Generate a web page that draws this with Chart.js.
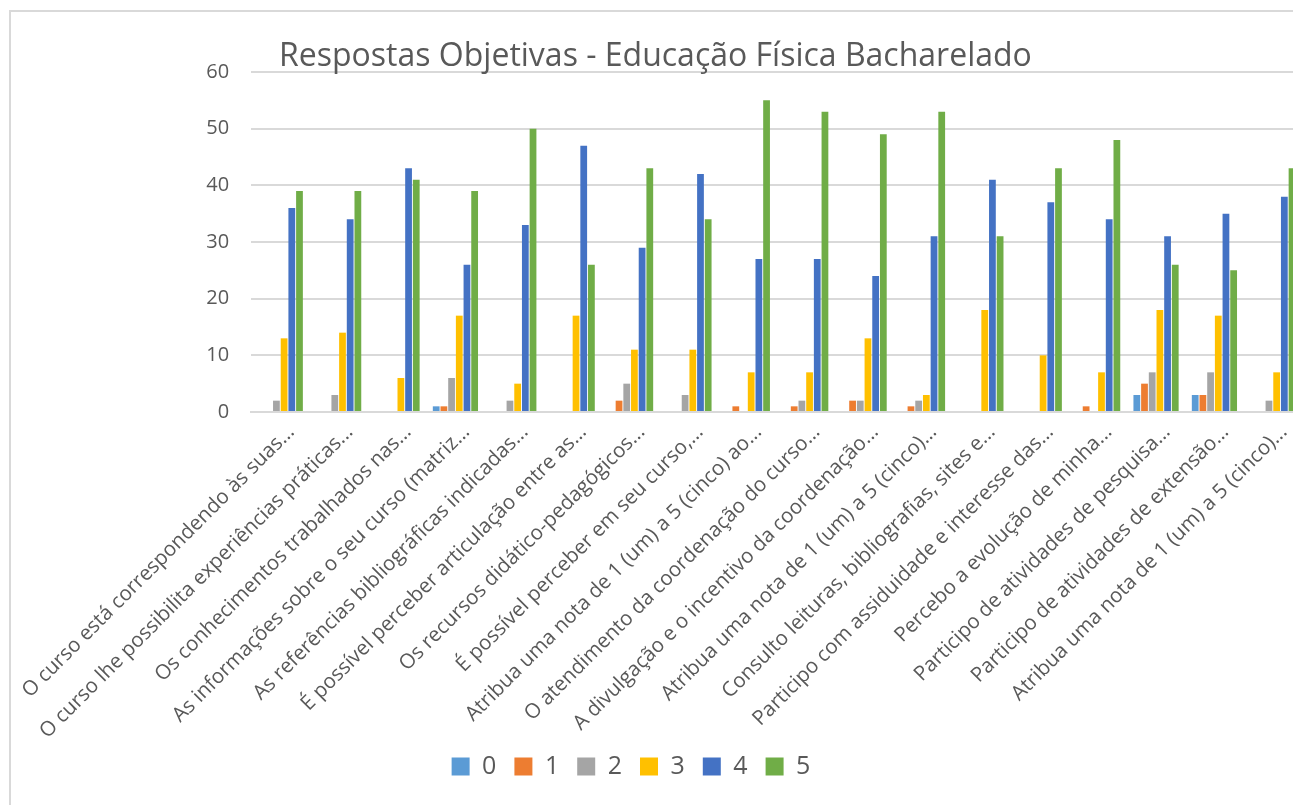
<!DOCTYPE html>
<html>
<head>
<meta charset="utf-8">
<script src="https://cdn.jsdelivr.net/npm/chart.js@4/dist/chart.umd.min.js"></script>
<style>
  body { margin: 0; background: #fff; overflow: hidden; }
  #wrap { position: absolute; left: 0; top: 0; width: 1312px; height: 805px; }
  #frame { position: absolute; left: 9px; top: 10px; width: 1320px; height: 820px; border: 2px solid #d9d9d9; pointer-events: none; }
</style>
</head>
<body>
<div id="wrap"><canvas id="chart"></canvas></div>
<div id="frame"></div>
<script>
const chartTitle = 'Respostas Objetivas - Educação Física Bacharelado'

const categories = [
  'O curso está correspondendo às suas...',
  'O curso lhe possibilita experiências práticas...',
  'Os conhecimentos trabalhados nas...',
  'As informações sobre o seu curso (matriz...',
  'As referências bibliográficas indicadas...',
  'É possível perceber articulação entre as...',
  'Os recursos didático-pedagógicos...',
  'É possível perceber em seu curso,...',
  'Atribua uma nota de 1 (um) a 5 (cinco) ao...',
  'O atendimento da coordenação do curso...',
  'A divulgação e o incentivo da coordenação...',
  'Atribua uma nota de 1 (um) a 5 (cinco)...',
  'Consulto leituras, bibliografias, sites e...',
  'Participo com assiduidade e interesse das...',
  'Percebo a evolução de minha...',
  'Participo de atividades de pesquisa...',
  'Participo de atividades de extensão...',
  'Atribua uma nota de 1 (um) a 5 (cinco)...'
]

const seriesNames = ['0', '1', '2', '3', '4', '5']
const nota0 = [0, 0, 0, 1, 0, 0, 0, 0, 0, 0, 0, 0, 0, 0, 0, 3, 3, 0]
const nota1 = [0, 0, 0, 1, 0, 0, 2, 0, 1, 1, 2, 1, 0, 0, 1, 5, 3, 0]
const nota2 = [2, 3, 0, 6, 2, 0, 5, 3, 0, 2, 2, 2, 0, 0, 0, 7, 7, 2]
const nota3 = [13, 14, 6, 17, 5, 17, 11, 11, 7, 7, 13, 3, 18, 10, 7, 18, 17, 7]
const nota4 = [36, 34, 43, 26, 33, 47, 29, 42, 27, 27, 24, 31, 41, 37, 34, 31, 35, 38]
const nota5 = [39, 39, 41, 39, 50, 26, 43, 34, 55, 53, 49, 53, 31, 43, 48, 26, 25, 43]
const seriesColors = ['#5B9BD5', '#ED7D31', '#A5A5A5', '#FFC000', '#4472C4', '#70AD47']

const series = [nota0, nota1, nota2, nota3, nota4, nota5]
const textColor = '#595959'
const fontFamily = '"Open Sans", "Noto Sans", sans-serif'

const titlePlugin = {
  id: 'excelTitle',
  afterDraw: (chart) => {
    const ctx = chart.ctx
    ctx.save()
    ctx.font = '32px ' + fontFamily
    ctx.fillStyle = textColor
    ctx.textBaseline = 'middle'
    ctx.fillText(chartTitle, chart.chartArea.left + 28, 57)
    ctx.restore()
  }
}

// legend sits a bit left of the canvas centre in the original
const legendShift = {
  id: 'legendShift',
  afterLayout: (chart) => {
    const lg = chart.legend
    const dx = 631 - (lg.left + lg.right) / 2
    lg.left += dx
    lg.right += dx
  }
}

new Chart(document.getElementById('chart'), {
  type: 'bar',
  data: {
    labels: categories,
    datasets: series.map((values, i) => ({
      label: seriesNames[i],
      data: values,
      backgroundColor: seriesColors[i],
      borderWidth: 0,
      categoryPercentage: 0.79,
      barPercentage: 0.88
    }))
  },
  options: {
    responsive: true,
    maintainAspectRatio: false,
    animation: false,
    layout: { padding: { left: 0, right: 10, top: 72, bottom: 16 } },
    plugins: {
      title: { display: false },
      tooltip: { enabled: false },
      legend: {
        position: 'bottom',
        labels: {
          color: textColor,
          font: { family: fontFamily, size: 25 },
          boxWidth: 18,
          boxHeight: 18,
          padding: 18
        }
      }
    },
    scales: {
      x: {
        grid: { display: false, drawTicks: false },
        border: { display: true, color: '#d9d9d9', width: 2 },
        ticks: {
          color: textColor,
          font: { family: fontFamily, size: 20.5 },
          minRotation: 45,
          maxRotation: 45,
          autoSkip: false,
          labelOffset: 11,
          padding: 8
        },
        afterFit: (scale) => {
          scale.height = 805 - 412 - scale.chart.legend.height - 16
        }
      },
      y: {
        min: 0,
        max: 60,
        ticks: {
          stepSize: 10,
          color: textColor,
          font: { family: fontFamily, size: 20 },
          padding: 22
        },
        grid: { color: '#d9d9d9', lineWidth: 2, drawTicks: false },
        border: { display: false },
        afterFit: (scale) => {
          scale.width = 246
        }
      }
    }
  },
  plugins: [titlePlugin, legendShift]
})
</script>
</body>
</html>
